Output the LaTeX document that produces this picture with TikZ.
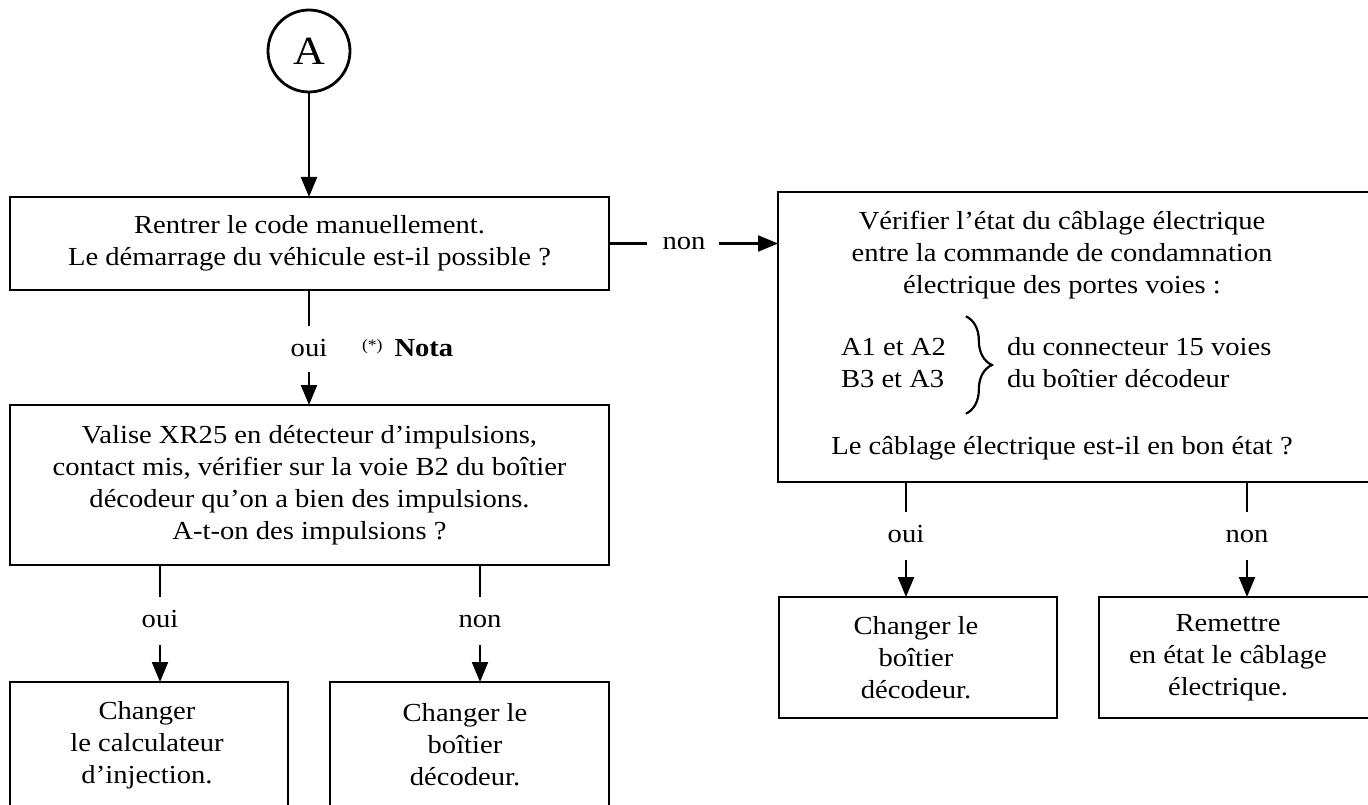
\documentclass[tikz,border=0pt]{standalone}
\usepackage{fontspec}
\setmainfont[FakeStretch=1.1]{Liberation Serif}
\usetikzlibrary{arrows.meta,decorations.pathreplacing}
\begin{document}
\begin{tikzpicture}[x=1pt,y=-1pt,
  every node/.style={inner sep=0pt,outer sep=0pt},
  txt/.style={font=\fontsize{26}{32}\selectfont,align=center},
  lbl/.style={font=\fontsize{26}{32}\selectfont,text height=18pt,text depth=4pt},
  boxst/.style={draw,line width=2.6pt,anchor=north west},
  conn/.style={line width=2.2pt},
  arr/.style={line width=2.2pt,-{Triangle[length=20pt,width=16pt]}}]
\useasboundingbox (0,0) rectangle (1368,805);

% start circle
\node[draw,circle,line width=2.8pt,minimum size=82pt,font=\fontsize{40}{40}\selectfont] (A) at (309,51) {A};

% box 1
\node[boxst,txt,minimum width=599pt,minimum height=93pt] (b1) at (10,197)
  {Rentrer le code manuellement.\\Le démarrage du véhicule est-il possible ?};
\draw[arr] (A.south) -- (A.south |- b1.north);

% non -> box 2
\node[lbl] (non1) at (684,243) {non};
\node[boxst,minimum width=620pt,minimum height=290pt] (b2) at (778,192) {};
\draw[conn] (b1.east) -- ([xshift=-16pt]b1.east -| non1.west);
\draw[arr] ([xshift=14pt]b1.east -| non1.east) -- (b1.east -| b2.west);

\node[txt] (t2) at (1062,255) {Vérifier l’état du câblage électrique\\entre la commande de condamnation\\électrique des portes voies :};
\node[txt,align=left,anchor=west] (t3) at (841,363) {A1 et A2\\B3 et A3};
\node[txt,align=left,anchor=west] (t4) at (1007,363) {du connecteur 15 voies\\du boîtier décodeur};
\draw[conn,decorate,decoration={brace,amplitude=26pt}]
  ([shift={(20pt,22pt)}]t3.north east) -- ([shift={(20pt,-26pt)}]t3.south east);
\node[txt] (t5) at (1062,448) {Le câblage électrique est-il en bon état ?};

% oui (left) -> box 3
\node[lbl] (oui1) at (309,349) {oui};
\node[lbl,anchor=west] (nota) at (362,349) {\raisebox{6pt}{\fontsize{16}{16}\selectfont(*)}\hspace{12pt}\textbf{Nota}};
\node[boxst,txt,minimum width=599pt,minimum height=160pt] (b3) at (10,405)
  {Valise XR25 en détecteur d’impulsions,\\contact mis, vérifier sur la voie B2 du boîtier\\décodeur qu’on a bien des impulsions.\\A-t-on des impulsions ?};
\draw[conn] (oui1 |- b1.south) -- ([yshift=12pt]oui1.north);
\draw[arr] ([yshift=-12pt]oui1.south) -- (oui1 |- b3.north);

% box 3 branches
\node[lbl] (oui2) at (160,620) {oui};
\node[lbl] (non2) at (480,620) {non};
\node[boxst,minimum width=278pt,minimum height=160pt] (b4) at (10,682) {};
\node[boxst,minimum width=279pt,minimum height=160pt] (b5) at (330,682) {};
\node[txt] (t6) at (147,745) {Changer\\le calculateur\\d’injection.};
\node[txt] (t7) at (465,745) {Changer le\\boîtier\\décodeur.};
\draw[conn] (oui2 |- b3.south) -- ([yshift=12pt]oui2.north);
\draw[arr] ([yshift=-14pt]oui2.south) -- (oui2 |- b4.north);
\draw[conn] (non2 |- b3.south) -- ([yshift=12pt]non2.north);
\draw[arr] ([yshift=-14pt]non2.south) -- (non2 |- b5.north);

% box 2 branches
\node[lbl] (oui3) at (906,535) {oui};
\node[lbl] (non3) at (1247,535) {non};
\node[boxst,minimum width=278pt,minimum height=121pt] (b6) at (779,597) {};
\node[boxst,minimum width=300pt,minimum height=121pt] (b7) at (1099,597) {};
\node[txt] (t8) at (916,658) {Changer le\\boîtier\\décodeur.};
\node[txt] (t9) at (1228,658) {Remettre\\en état le câblage\\électrique.};
\draw[conn] (oui3 |- b2.south) -- ([yshift=12pt]oui3.north);
\draw[arr] ([yshift=-14pt]oui3.south) -- (oui3 |- b6.north);
\draw[conn] (non3 |- b2.south) -- ([yshift=12pt]non3.north);
\draw[arr] ([yshift=-14pt]non3.south) -- (non3 |- b7.north);
\end{tikzpicture}
\end{document}
